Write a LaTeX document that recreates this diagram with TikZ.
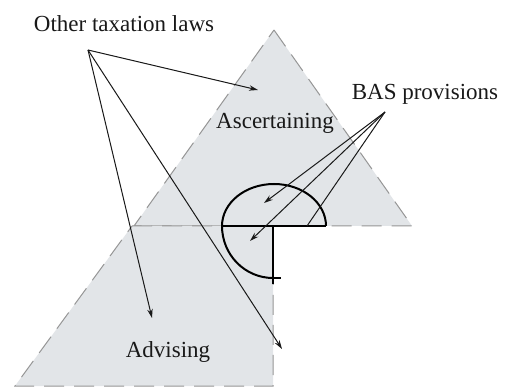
\documentclass[tikz,border=0pt]{standalone}
\usepackage{fontspec}
\setmainfont{Liberation Serif}
\usetikzlibrary{arrows.meta}
\definecolor{fillgray}{RGB}{226,229,232}
\definecolor{dashgray}{RGB}{150,150,150}
\begin{document}
\begin{tikzpicture}[x=1pt,y=-1pt,
  zone/.style={fill=fillgray, draw=dashgray, line width=1pt, dash pattern=on 20pt off 10pt},
  lab/.style={font=\fontsize{23}{26}\selectfont, text=black!90, anchor=base, inner sep=0pt},
  pointer/.style={draw=black!90, line width=1pt, -{Stealth[length=9pt,width=5.5pt]}},
  plainline/.style={draw=black!90, line width=1pt},
  rim/.style={draw=black, line width=2pt}]
\useasboundingbox[fill=white] (0,0) rectangle (528,390);
% zones
\path[zone] (274,30) -- (412,226) -- (134,226) -- cycle;
\path[zone] (132,226) -- (273,226) -- (273,386) -- (15,386) -- cycle;
% semicircle element
\draw[rim] (222,226) arc[start angle=180, end angle=0, x radius=52pt, y radius=42pt];
\draw[rim] (222,226) -- (326,226);
\draw[rim] (222,226) arc[start angle=180, end angle=270, x radius=51pt, y radius=52pt];
\draw[rim] (273,226) -- (273,284);
\draw[rim, line width=1.5pt] (273,278) -- (281,278);
% labels
\node[lab] (other) at (124,32) {Other taxation laws};
\node[lab] (bas) at (425,100) {BAS provisions};
\node[lab] (asc) at (275,129) {Ascertaining};
\node[lab] (adv) at (168,358) {Advising};
% connector points
\coordinate (osrc) at (88,50);
\coordinate (bsrc) at (385,112);
\coordinate (t1) at (258,90);
\coordinate (t2) at (152,318);
\coordinate (t3) at (282,349);
\coordinate (b1) at (264,203);
\coordinate (b2) at (250,241);
\coordinate (b3) at (307,226);
% arrows
\draw[pointer] (osrc) -- (t1);
\draw[pointer] (osrc) -- (t2);
\draw[pointer] (osrc) -- (t3);
\draw[pointer] (bsrc) -- (b1);
\draw[pointer] (bsrc) -- (b2);
\draw[plainline] (bsrc) -- (b3);
\end{tikzpicture}
\end{document}
